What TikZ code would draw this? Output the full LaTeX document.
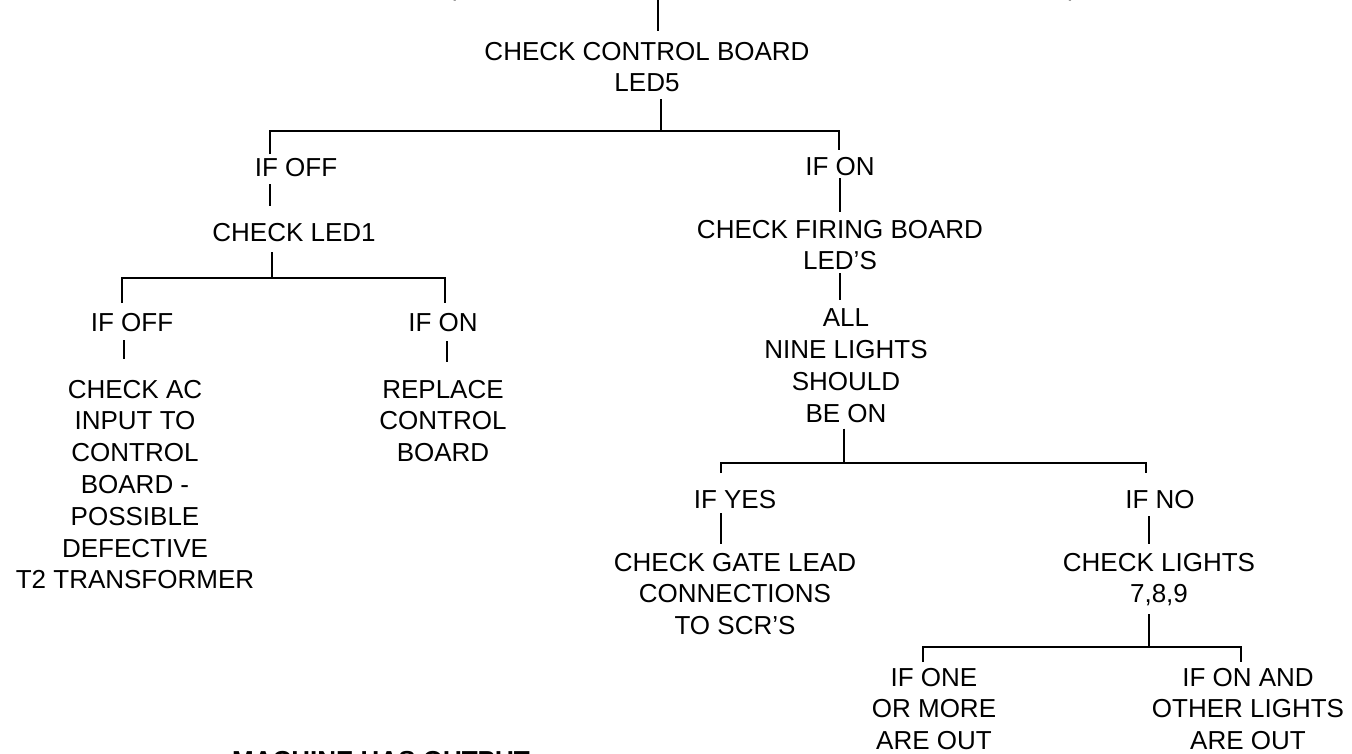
\documentclass[tikz,border=0pt]{standalone}
\usepackage{fontspec}
\setmainfont{Liberation Sans}
\begin{document}
\begin{tikzpicture}[x=1pt,y=-1pt,
  lbl/.style={inner sep=0pt,outer sep=0pt,anchor=north,align=center,
    font=\fontsize{26}{31.8}\selectfont},
  conn/.style={draw=black,line width=1.1pt}]
\clip (0,0) rectangle (1352,753);
\fill[white] (0,0) rectangle (1352,753);

% nodes
\node[lbl] (ccb) at (647,42) {CHECK CONTROL BOARD\\LED5};
\node[lbl] (ifoffA) at (296,158) {IF OFF};
\node[lbl] (led1) at (294,223) {CHECK LED1};
\node[lbl] (ifoffB) at (132,313) {IF OFF};
\node[lbl] (ifonB) at (443,313) {IF ON};
\node[lbl] (acin) at (135,380) {CHECK AC\\INPUT TO\\CONTROL\\BOARD -\\POSSIBLE\\DEFECTIVE\\T2 TRANSFORMER};
\node[lbl] (replace) at (443,380) {REPLACE\\CONTROL\\BOARD};
\node[lbl] (ifonA) at (840,157) {IF ON};
\node[lbl] (cfb) at (840,220) {CHECK FIRING BOARD\\LED’S};
\node[lbl] (all) at (846,309) {ALL\\NINE LIGHTS\\SHOULD\\BE ON};
\node[lbl] (ifyes) at (735,490) {IF YES};
\node[lbl] (gate) at (735,553) {CHECK GATE LEAD\\CONNECTIONS\\TO SCR’S};
\node[lbl] (ifno) at (1160,490) {IF NO};
\node[lbl] (lights) at (1159,553) {CHECK LIGHTS\\7,8,9};
\node[lbl] (ifone) at (934,668) {IF ONE\\OR MORE\\ARE OUT};
\node[lbl] (ifonand) at (1248,668) {IF ON AND\\OTHER LIGHTS\\ARE OUT};
\node[lbl,font=\fontsize{26}{31.8}\selectfont\bfseries] (machine) at (381,751.5) {MACHINE HAS OUTPUT};
\node[lbl,anchor=base] (lpar) at (452,-4.5) {(};
\node[lbl,anchor=base] (rpar) at (1073,-4.5) {)};

% x positions of connectors and bar levels
\coordinate (top) at (658,0);
\coordinate (xa) at (661,131);
\coordinate (b1l) at (270,131);
\coordinate (b1r) at (839,131);
\coordinate (xb) at (272,278);
\coordinate (b2l) at (122,278);
\coordinate (b2r) at (445,278);
\coordinate (xc) at (124,0);
\coordinate (xd) at (447,0);
\coordinate (xe) at (840,0);
\coordinate (xf) at (844,463);
\coordinate (b3l) at (721,463);
\coordinate (b3r) at (1146,463);
\coordinate (xg) at (1149,0);
\coordinate (xh) at (1149,647);
\coordinate (b4l) at (923,647);
\coordinate (b4r) at (1241,647);

% connectors
\draw[conn] (top) -- ([yshift=11pt]ccb.north -| top);
\draw[conn] ([yshift=-7pt]ccb.south -| xa) -- (xa);
\draw[conn] ([yshift=4pt]ifoffA.north -| b1l) -- (b1l) -- (b1r) -- ([yshift=7pt]ifonA.north -| b1r);
\draw[conn] ([yshift=-8pt]ifoffA.south -| b1l) -- ([yshift=17pt]led1.north -| b1l);
\draw[conn] ([yshift=-11pt]led1.south -| xb) -- (xb);
\draw[conn] ([yshift=10pt]ifoffB.north -| b2l) -- (b2l) -- (b2r) -- ([yshift=10pt]ifonB.north -| b2r);
\draw[conn] ([yshift=-9pt]ifoffB.south -| xc) -- ([yshift=21pt]acin.north -| xc);
\draw[conn] ([yshift=-10pt]ifonB.south -| xd) -- ([yshift=18pt]replace.north -| xd);
\draw[conn] ([yshift=-3pt]ifonA.south -| xe) -- ([yshift=8pt]cfb.north -| xe);
\draw[conn] ([yshift=-3pt]cfb.south -| xe) -- ([yshift=9pt]all.north -| xe);
\draw[conn] ([yshift=-6pt]all.south -| xf) -- (xf);
\draw[conn] ([yshift=17pt]ifyes.north -| b3l) -- (b3l) -- (b3r) -- ([yshift=17pt]ifno.north -| b3r);
\draw[conn] ([yshift=-5pt]ifyes.south -| b3l) -- ([yshift=9pt]gate.north -| b3l);
\draw[conn] ([yshift=-8pt]ifno.south -| xg) -- ([yshift=9pt]lights.north -| xg);
\draw[conn] ([yshift=-8pt]lights.south -| xh) -- (xh);
\draw[conn] ([yshift=6pt]ifone.north -| b4l) -- (b4l) -- (b4r) -- ([yshift=6pt]ifonand.north -| b4r);
\end{tikzpicture}
\end{document}
